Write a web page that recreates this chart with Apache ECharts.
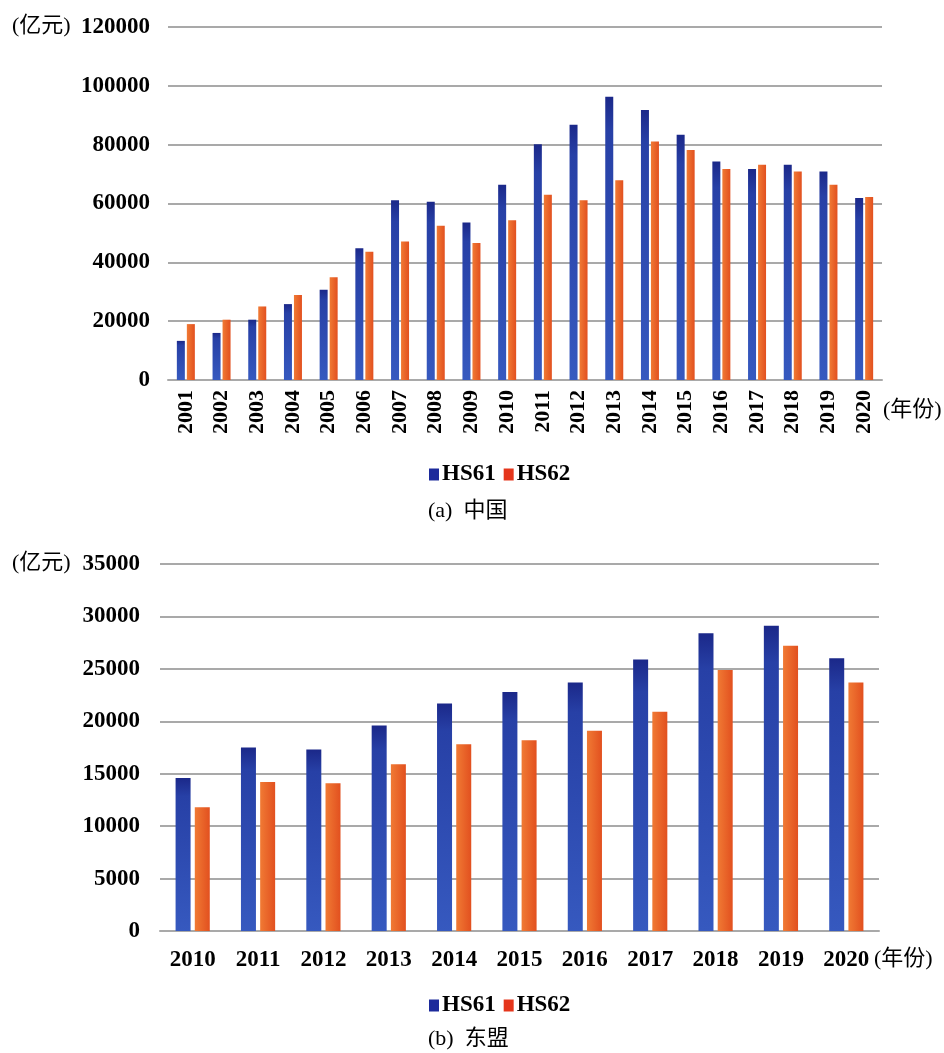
<!DOCTYPE html>
<html>
<head>
<meta charset="utf-8">
<script src="https://cdn.jsdelivr.net/npm/echarts@6/dist/echarts.min.js"></script>
<style>
  html, body { margin: 0; padding: 0; background: #ffffff; }
  #chart { width: 944px; height: 1053px; }
</style>
</head>
<body>
<div id="chart"></div>
<script>
// (a) China: textile/apparel exports, HS61 vs HS62, 100 million yuan
const chinaYears = ['2001','2002','2003','2004','2005','2006','2007','2008','2009','2010',
                    '2011','2012','2013','2014','2015','2016','2017','2018','2019','2020'];
const chinaHS61 = [13300,16000,20500,25800,30700,44800,61100,60600,53500,66400,
                   80100,86800,96300,91800,83400,74300,71700,73200,70900,61900];
const chinaHS62 = [19000,20500,25000,28900,34900,43600,47100,52400,46600,54300,
                   63000,61100,67900,81100,78200,71700,73200,70900,66400,62200];

// (b) ASEAN
const aseanYears = ['2010','2011','2012','2013','2014','2015','2016','2017','2018','2019','2020'];
const aseanHS61 = [14600,17500,17300,19600,21700,22800,23700,25900,28400,29100,26000];
const aseanHS62 = [11800,14200,14100,15900,17800,18200,19100,20900,24900,27200,23700];

const seriesNames = ['HS61', 'HS62'];

const SERIF = '"Liberation Serif", "Times New Roman", "Noto Sans CJK SC", serif';
const CJK = '"Liberation Serif", "Noto Sans CJK SC", serif';
const gridLine = { show: true, lineStyle: { color: '#a9a9a9', width: 2 } };

const blueFill = new echarts.graphic.LinearGradient(0, 0, 0, 1, [
  { offset: 0, color: '#1b2889' },
  { offset: 0.12, color: '#2740a6' },
  { offset: 1, color: '#3659bf' }
]);
const orangeFill = new echarts.graphic.LinearGradient(0, 0, 1, 0, [
  { offset: 0, color: '#f07a34' },
  { offset: 1, color: '#e2501f' }
]);

function valueAxis(gridIndex, max, interval, labelMargin) {
  return {
    type: 'value', gridIndex: gridIndex, min: 0, max: max, interval: interval,
    axisLine: { show: false }, axisTick: { show: false },
    splitLine: gridLine,
    axisLabel: {
      color: '#000', fontFamily: SERIF, fontWeight: 'bold', fontSize: 23, margin: labelMargin,
      formatter: function (v) { return String(v); }
    }
  };
}

function legendAt(top) {
  return {
    left: 424, top: top, itemWidth: 10, itemHeight: 12, itemGap: 8,
    icon: 'rect',
    data: [
      { name: seriesNames[0], itemStyle: { color: '#1c2a9b' } },
      { name: seriesNames[1], itemStyle: { color: '#e5361c' } }
    ],
    textStyle: { color: '#000', fontFamily: SERIF, fontWeight: 'bold', fontSize: 23, padding: [0, 0, 0, -2] }
  };
}

function textAt(x, y, text, size) {
  return {
    type: 'text', left: x, top: y,
    style: { text: text, fill: '#000', font: 'normal ' + size + 'px ' + CJK }
  };
}

const option = {
  backgroundColor: '#ffffff',
  animation: false,
  grid: [
    { left: 168, right: 62, top: 27, bottom: 673 },
    { left: 160, right: 65, top: 564, bottom: 122 }
  ],
  legend: [legendAt(458), legendAt(989)],
  xAxis: [
    {
      type: 'category', gridIndex: 0, data: chinaYears,
      axisLine: { lineStyle: { color: '#a9a9a9', width: 2 } }, axisTick: { show: false },
      axisLabel: { rotate: 90, color: '#000', fontFamily: SERIF, fontWeight: 'bold', fontSize: 22, margin: 10, interval: 0 }
    },
    {
      type: 'category', gridIndex: 1, data: aseanYears,
      axisLine: { lineStyle: { color: '#a9a9a9', width: 2 } }, axisTick: { show: false },
      axisLabel: { color: '#000', fontFamily: SERIF, fontWeight: 'bold', fontSize: 23, margin: 18, interval: 0 }
    }
  ],
  yAxis: [
    valueAxis(0, 120000, 20000, 18),
    valueAxis(1, 35000, 5000, 20)
  ],
  series: [
    { name: seriesNames[0], type: 'bar', xAxisIndex: 0, yAxisIndex: 0, data: chinaHS61,
      barWidth: 8, barGap: '25%', itemStyle: { color: blueFill } },
    { name: seriesNames[1], type: 'bar', xAxisIndex: 0, yAxisIndex: 0, data: chinaHS62,
      barWidth: 8, barGap: '25%', itemStyle: { color: orangeFill } },
    { name: seriesNames[0], type: 'bar', xAxisIndex: 1, yAxisIndex: 1, data: aseanHS61,
      barWidth: 15, barGap: '28%', itemStyle: { color: blueFill } },
    { name: seriesNames[1], type: 'bar', xAxisIndex: 1, yAxisIndex: 1, data: aseanHS62,
      barWidth: 15, barGap: '28%', itemStyle: { color: orangeFill } }
  ],
  graphic: [
    textAt(12, 15, '(亿元)', 22),
    textAt(12, 552, '(亿元)', 22),
    textAt(883, 399, '(年份)', 22),
    textAt(874, 948, '(年份)', 22),
    textAt(428, 500, '(a)  中国', 22),
    textAt(428, 1028, '(b)  东盟', 22)
  ]
};

const chart = echarts.init(document.getElementById('chart'), null, { renderer: 'canvas' });
chart.setOption(option);
</script>
</body>
</html>
